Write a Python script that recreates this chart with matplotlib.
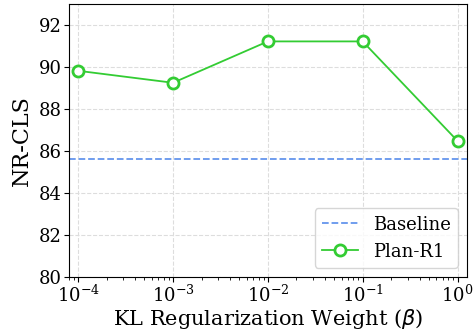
import matplotlib
matplotlib.use("Agg")
from matplotlib import pyplot as plt

# data
betas = [1e-4, 1e-3, 1e-2, 1e-1, 1e0]
plan_r1 = [89.82, 89.25, 91.22, 91.22, 86.48]
baseline = 85.62

plt.rcParams["font.family"] = "DejaVu Serif"

fig, ax = plt.subplots(figsize=(4.74, 3.36), dpi=100)
ax.axhline(baseline, color="#6495ED", linestyle="--", linewidth=1.3, label="Baseline")
ax.plot(betas, plan_r1, color="#33CC33", linewidth=1.3, marker="o", markersize=8,
        markerfacecolor="white", markeredgewidth=2, label="Plan-R1")

ax.set_xscale("log")
ax.set_xlim(8e-5, 1.25)
ax.set_ylim(80, 93)
ax.set_yticks([80, 82, 84, 86, 88, 90, 92])
ax.grid(True, linestyle="--", color="#dddddd", linewidth=0.8)
ax.tick_params(labelsize=13, pad=2)
ax.set_xlabel(r"KL Regularization Weight ($\beta$)", fontsize=15, labelpad=1)
ax.set_ylabel("NR-CLS", fontsize=16)
ax.legend(loc="lower right", fontsize=13)

fig.subplots_adjust(left=0.1456, right=0.9846, top=0.988, bottom=0.1756)
fig.savefig("out.png", dpi=100)
